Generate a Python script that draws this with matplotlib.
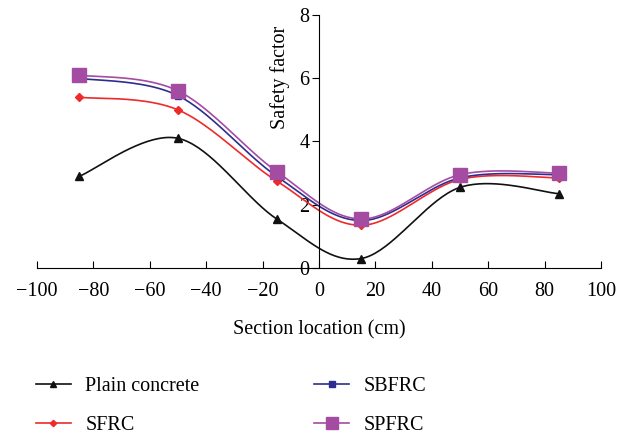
import numpy as np
import matplotlib
matplotlib.use('Agg')
import matplotlib.pyplot as plt

plt.rcParams['font.family'] = ['Liberation Serif', 'DejaVu Serif']

# data
section = [-85, -50, -15, 15, 50, 85]
plain = [2.9, 4.1, 1.55, 0.3, 2.55, 2.35]
sfrc = [5.4, 5.0, 2.75, 1.35, 2.8, 2.85]
sbfrc = [6.0, 5.45, 2.9, 1.5, 2.85, 2.95]
spfrc = [6.1, 5.6, 3.05, 1.55, 2.95, 3.0]


def smooth(x, y, n=40):
    # excel-like smoothed line (catmull-rom bezier)
    x = np.asarray(x, float)
    y = np.asarray(y, float)
    px = np.concatenate([[x[0]], x, [x[-1]]])
    py = np.concatenate([[y[0]], y, [y[-1]]])
    xs, ys = [], []
    t = np.linspace(0, 1, n)
    for i in range(1, len(px) - 2):
        p0 = np.array([px[i], py[i]])
        p3 = np.array([px[i + 1], py[i + 1]])
        p1 = p0 + (np.array([px[i + 1], py[i + 1]]) - np.array([px[i - 1], py[i - 1]])) / 6
        p2 = p3 - (np.array([px[i + 2], py[i + 2]]) - np.array([px[i], py[i]])) / 6
        b = ((1 - t) ** 3)[:, None] * p0 + (3 * (1 - t) ** 2 * t)[:, None] * p1 \
            + (3 * (1 - t) * t ** 2)[:, None] * p2 + (t ** 3)[:, None] * p3
        xs.extend(b[:, 0])
        ys.extend(b[:, 1])
    return xs, ys


fs = 14.5

fig = plt.figure(figsize=(6.32, 4.34), dpi=100)
ax = fig.add_axes([0.0585, 0.3825, 0.8925, 0.583])

series = [
    ('Plain concrete', plain, '#111111', '^', 6),
    ('SFRC', sfrc, '#ee2a2a', 'D', 4),
    ('SBFRC', sbfrc, '#2e2d8f', 's', 5),
    ('SPFRC', spfrc, '#a44ca2', 's', 10),
]
handles = []
for name, vals, col, mk, ms in series:
    sx, sy = smooth(section, vals)
    ax.plot(sx, sy, color=col, lw=1.2)
    ax.plot(section, vals, ls='none', marker=mk, ms=ms, color=col)
    h, = ax.plot([], [], color=col, lw=1.2, marker=mk, ms=ms * 0.8, label=name)
    handles.append(h)

ax.set_xlim(-100, 100)
ax.set_ylim(0, 8)
ax.set_xticks(range(-100, 101, 20))
ax.set_yticks(range(0, 9, 2))
ax.set_xticklabels([('\u2212' + str(-v)) if v < 0 else str(v) for v in range(-100, 101, 20)])
ax.spines['top'].set_visible(False)
ax.spines['right'].set_visible(False)
ax.spines['left'].set_position(('data', 0))
ax.tick_params(axis='x', direction='in', length=5, labelsize=fs, pad=10)
ax.tick_params(axis='y', direction='out', length=5, labelsize=fs, pad=2)

ax.set_xlabel('Section location (cm)', fontsize=fs, labelpad=14)
ax.set_ylabel('Safety factor', fontsize=fs)
ax.yaxis.set_label_coords(0.448, 0.755)

fig.legend(handles=handles, ncol=2, loc='upper left', bbox_to_anchor=(0.028, 0.173),
           frameon=False, fontsize=fs, handlelength=1.75, handletextpad=0.7,
           columnspacing=5.7, labelspacing=1.0)

fig.savefig('out.png', dpi=100)
